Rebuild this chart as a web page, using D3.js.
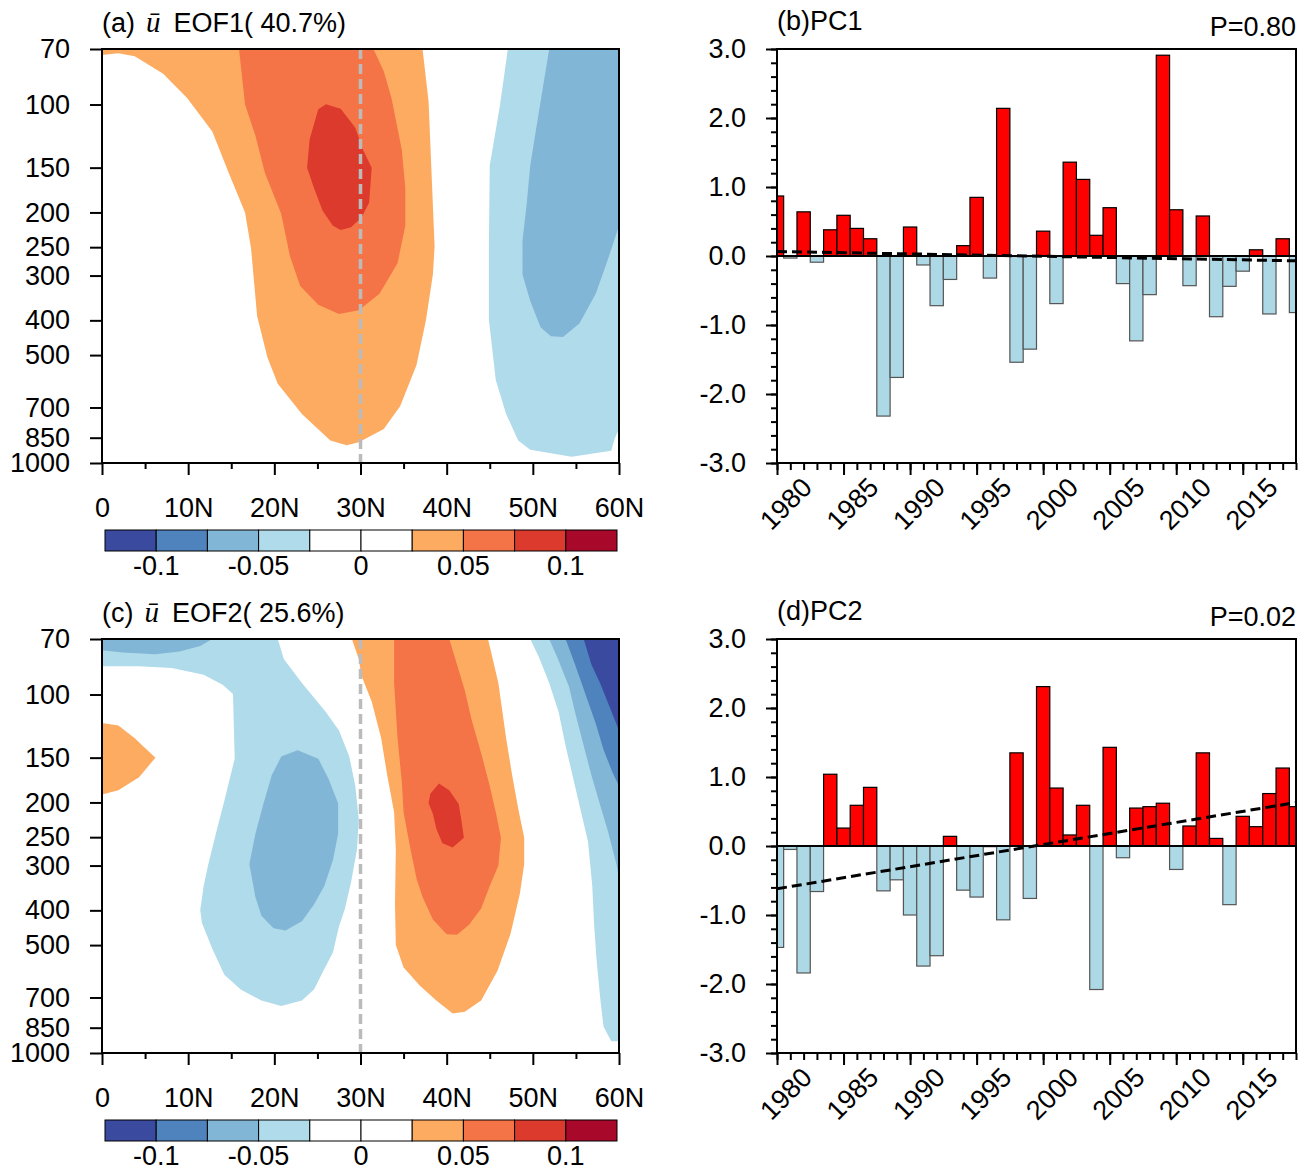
<!DOCTYPE html>
<html>
<head>
<meta charset="utf-8">
<script src="https://cdn.jsdelivr.net/npm/d3@7"></script>
<style>
body { margin: 0; background: #fff; }
text { font-family: "Liberation Sans", Arial, Helvetica, sans-serif; }
</style>
</head>
<body>
<script>
//------------------------------------------------------------------------------
// data

// colour levels of the contour plots (same colour bar for EOF1 and EOF2)
const levels = [-0.1, -0.075, -0.05, -0.025, 0, 0.025, 0.05, 0.075, 0.1]
const levelColors = ["#3a4a9e", "#4e83bd", "#82b6d6", "#b0dbea", "#ffffff", "#ffffff", "#fdab61", "#f47447", "#dc3a2d", "#a8082a"]
const cbEnds = [-0.125, 0.125]
const cbLabels = [-0.1, -0.05, 0, 0.05, 0.1]

const pLevels = [70, 100, 150, 200, 250, 300, 400, 500, 700, 850, 1000]
const latTicks = [0, 10, 20, 30, 40, 50, 60]
const latMinor = [5, 15, 25, 35, 45, 55]

// contour regions, [latitude, pressure hPa]
const eof1Pos1 = [[0,70],[37.2,70],[37.9,98],[38.1,128],[38.6,249],[38.4,298],[37.6,399],[36.5,533],[34.6,695],[32.7,804],[29.8,875],[28.4,892],[26.5,865],[23.2,730],[20.4,601],[19.2,508],[18.0,389],[17.3,252],[16.6,200],[14.7,155],[12.8,119],[9.9,96],[7.1,82],[3.8,73.3],[1.9,71.9],[0,72.8]]
const eof1Pos2 = [[15.9,70],[16.6,100],[17.8,122],[18.9,155],[20.8,202],[21.8,264],[23.0,321],[25.1,362],[27.5,384],[29.8,375],[32.2,337],[34.3,277],[35.2,218],[35.2,171],[34.8,134],[33.6,96],[32.7,80.7],[31.5,70]]
const eof1Pos3 = [[26.0,99.9],[27.7,102.8],[29.4,116],[30.3,134],[31.3,150],[31.0,188],[30.1,207],[28.9,220],[27.7,224],[26.8,218],[25.6,198],[24.6,171],[23.8,150],[24.1,125],[25.1,103]]
const eof1Neg1 = [[47.1,70],[60,70],[60,804],[59.5,854],[59.1,925],[54.5,960],[49.7,918],[48.3,865],[46.9,730],[45.7,587],[44.9,399],[44.9,246],[45.0,148],[46.2,100]]
const eof1Neg2 = [[51.9,70],[60,70],[60,218],[58.7,271],[57.3,337],[55.4,408],[53.5,445],[52.1,443],[50.9,418],[49.7,353],[48.8,298],[48.8,240],[49.3,188],[49.7,148],[50.7,105]]

const eof2Neg1a = [[0,70],[20.4,70],[21.1,79.6],[23.2,92.8],[26.0,112],[27.5,126],[28.7,149],[29.4,180],[29.8,223],[29.6,270],[28.9,334],[28.2,395],[27.5,444],[26.8,524],[25.8,583],[24.6,665],[23.2,714],[20.8,740],[18.5,714],[16.1,665],[14.2,605],[12.8,512],[11.6,434],[11.4,399],[11.8,342],[12.3,300],[13.3,240],[14.2,198],[15.4,151],[15.2,99.7],[14.0,93.9],[11.8,88.1],[8.1,84.4],[4.3,83.4],[0,83.4]]
const eof2Neg2a = [[0,70],[12.8,70],[11.4,73.2],[9.0,75.9],[6.2,77.2],[2.4,76.4],[0,75.3]]
const eof2Neg2b = [[22.7,143],[25.1,151],[26.3,172],[27.4,201],[27.4,245],[26.8,290],[25.8,342],[24.6,385],[23.2,429],[21.3,455],[19.9,449],[18.5,414],[17.8,367],[17.1,297],[17.8,245],[18.7,203],[19.7,168],[20.8,149]]
const eof2Pos1a = [[0,120],[1.9,122],[3.8,132.5],[6.2,150],[4.3,170],[1.9,185],[0,190]]
const eof2Pos1b = [[29.0,70],[29.8,79.6],[30.1,88.5],[31.3,104.5],[32.4,132.5],[33.1,168],[33.9,213],[34.1,270],[34.0,385],[34.1,500],[35.0,577],[36.9,649],[38.8,714],[40.7,776],[42.1,767],[44.0,714],[45.9,590],[47.4,466],[48.5,359],[49.0,297],[49.0,251],[48.3,208],[47.6,168],[46.9,132.5],[46.0,92.8],[44.8,70]]
const eof2Pos2 = [[33.9,70],[33.9,92.8],[34.3,132.5],[34.8,176],[35.0,213],[35.8,270],[36.5,326],[37.2,367],[38.4,424],[40.0,466],[41.2,468],[42.6,439],[44.0,395],[45.0,342],[46.0,300],[46.3,251],[45.7,213],[45.0,180],[44.0,145.7],[42.9,117.7],[42.1,97.3],[41.2,82.4],[40.3,70]]
const eof2Pos3 = [[39.1,177],[40.3,185],[41.4,202],[41.7,223],[42.0,251],[40.7,267],[39.5,260],[38.8,237],[38.4,215],[37.9,201],[38.1,189]]
const eof2Neg1b = [[49.7,70],[50.7,78.6],[51.9,92.8],[53.0,112],[53.8,139],[54.5,164],[55.4,203],[56.4,257],[56.9,342],[57.1,434],[57.4,550],[57.8,697],[58.2,843],[59.1,927],[60,927],[60,70]]
const eof2Neg2c = [[51.9,70],[53.0,80.5],[54.2,95.1],[54.9,112],[55.9,139],[56.8,168],[57.8,203],[58.7,240],[59.7,297],[60,326],[60,70]]
const eof2Neg3 = [[53.8,70],[54.9,82.4],[56.1,99.7],[57.3,120.5],[58.2,142.3],[59.2,164],[60,180],[60,70]]
const eof2Neg4 = [[55.9,70],[56.8,82.4],[57.8,92.8],[59.0,109.6],[60,126],[60,70]]

// value of each region (decides the colour), drawn in this order
const eof1Regions = [
    { v: 0.03, pts: eof1Pos1 }, { v: 0.06, pts: eof1Pos2 }, { v: 0.08, pts: eof1Pos3 },
    { v: -0.03, pts: eof1Neg1 }, { v: -0.06, pts: eof1Neg2 }
]
const eof2Regions = [
    { v: -0.03, pts: eof2Neg1a }, { v: -0.06, pts: eof2Neg2a }, { v: -0.06, pts: eof2Neg2b },
    { v: 0.03, pts: eof2Pos1a }, { v: 0.03, pts: eof2Pos1b }, { v: 0.06, pts: eof2Pos2 }, { v: 0.08, pts: eof2Pos3 },
    { v: -0.03, pts: eof2Neg1b }, { v: -0.06, pts: eof2Neg2c }, { v: -0.08, pts: eof2Neg3 }, { v: -0.11, pts: eof2Neg4 }
]

// principal components
const years = [1980, 1981, 1982, 1983, 1984, 1985, 1986, 1987, 1988, 1989,
    1990, 1991, 1992, 1993, 1994, 1995, 1996, 1997, 1998, 1999,
    2000, 2001, 2002, 2003, 2004, 2005, 2006, 2007, 2008, 2009,
    2010, 2011, 2012, 2013, 2014, 2015, 2016, 2017, 2018, 2019]
const pc1 = [0.87, -0.03, 0.64, -0.09, 0.38, 0.59, 0.40, 0.25, -2.32, -1.76,
    0.42, -0.13, -0.72, -0.34, 0.15, 0.85, -0.32, 2.14, -1.54, -1.35,
    0.36, -0.69, 1.36, 1.11, 0.30, 0.70, -0.40, -1.23, -0.56, 2.91,
    0.67, -0.43, 0.58, -0.88, -0.44, -0.22, 0.09, -0.84, 0.25, -0.82]
const pc2 = [-1.47, -0.05, -1.84, -0.66, 1.04, 0.26, 0.59, 0.85, -0.65, -0.49,
    -1.00, -1.74, -1.59, 0.14, -0.64, -0.74, -0.01, -1.07, 1.35, -0.76,
    2.31, 0.84, 0.16, 0.59, -2.08, 1.43, -0.17, 0.55, 0.57, 0.62,
    -0.34, 0.29, 1.35, 0.11, -0.85, 0.43, 0.28, 0.76, 1.13, 0.57]
// linear trend, value at first and last year
const trendYears = [1980, 2019]
const trend1 = [0.065, -0.07]
const trend2 = [-0.62, 0.63]

const yearTicks = [1980, 1985, 1990, 1995, 2000, 2005, 2010, 2015]
const pcTicks = [-3, -2, -1, 0, 1, 2, 3]

//------------------------------------------------------------------------------

const fs = 27 // taille du texte

const svg = d3.select("body").append("svg")
    .attr("width", 1306)
    .attr("height", 1169)

const color = d3.scaleThreshold().domain(levels).range(levelColors)

function styleAxis(sel) {
    sel.attr("font-size", fs).attr("font-family", null)
    sel.select(".domain").remove()
    sel.selectAll(".tick line").attr("stroke-width", 2)
}

//------------------------------------------------------------------------------
// contour panel (latitude / pressure)

function drawContour(top, tag, name, regions) {
    const w = 517, h = 414
    const g = svg.append("g").attr("transform", "translate(102," + top + ")")
    const x = d3.scaleLinear().domain([0, 60]).range([0, w])
    const y = d3.scaleLog().domain([70, 1000]).range([0, h])

    const clipId = "clip-c" + top
    g.append("clipPath").attr("id", clipId)
        .append("rect").attr("width", w).attr("height", h)

    const line = d3.line().x(d => x(d[0])).y(d => y(d[1]))
    g.append("g")
        .attr("clip-path", "url(#" + clipId + ")")
        .selectAll("path")
        .data(regions)
        .join("path")
        .attr("d", d => line(d.pts) + "Z")
        .attr("fill", d => color(d.v))

    // 30N reference line
    g.append("line")
        .attr("x1", x(30)).attr("x2", x(30))
        .attr("y1", 0).attr("y2", h)
        .attr("stroke", "#bbbbbb")
        .attr("stroke-width", 3.5)
        .attr("stroke-dasharray", "10,5")

    g.append("rect")
        .attr("width", w).attr("height", h)
        .attr("fill", "none").attr("stroke", "#000").attr("stroke-width", 2)

    g.append("g")
        .call(d3.axisLeft(y).tickValues(pLevels).tickFormat(d => d).tickSize(12).tickPadding(20))
        .call(styleAxis)

    g.append("g")
        .attr("transform", "translate(0," + h + ")")
        .call(d3.axisBottom(x).tickValues(latTicks).tickFormat(d => d === 0 ? "0" : d + "N").tickSize(12).tickPadding(23))
        .call(styleAxis)
    g.append("g")
        .attr("transform", "translate(0," + h + ")")
        .call(d3.axisBottom(x).tickValues(latMinor).tickFormat("").tickSize(6))
        .call(styleAxis)

    // titre
    const t = g.append("text")
        .attr("x", 0).attr("y", -17)
        .attr("font-size", fs)
    t.append("tspan").text("(" + tag + ")")
    t.append("tspan").attr("dx", 11)
        .style("font-family", "'Liberation Serif', 'DejaVu Serif', serif")
        .style("font-style", "italic")
        .attr("font-size", 29)
        .text("ū")
    t.append("tspan").attr("dx", 13).text(name)

    // colour bar
    const bounds = [cbEnds[0]].concat(levels, [cbEnds[1]])
    const cb = d3.scaleLinear().domain(cbEnds).range([3, 515])
    const cbG = g.append("g").attr("transform", "translate(0," + (h + 67) + ")")
    cbG.selectAll("rect")
        .data(levelColors)
        .join("rect")
        .attr("x", (d, i) => cb(bounds[i]))
        .attr("width", (d, i) => cb(bounds[i + 1]) - cb(bounds[i]))
        .attr("height", 21)
        .attr("fill", d => d)
        .attr("stroke", "#000")
        .attr("stroke-width", 1)
    cbG.selectAll("text")
        .data(cbLabels)
        .join("text")
        .attr("x", d => cb(d))
        .attr("y", 45)
        .attr("text-anchor", "middle")
        .attr("font-size", fs)
        .text(d => String(d))
}

//------------------------------------------------------------------------------
// bar panel (principal component)

function drawBars(top, title, pval, values, trend) {
    const w = 519, h = 414
    const g = svg.append("g").attr("transform", "translate(777," + top + ")")
    const x = d3.scaleLinear().domain([years[0], years[years.length - 1]]).range([0, w])
    const y = d3.scaleLinear().domain([-3, 3]).range([h, 0])
    const bw = x(years[1]) - x(years[0])

    const clipId = "clip-b" + top
    g.append("clipPath").attr("id", clipId)
        .append("rect").attr("width", w).attr("height", h)

    const plot = g.append("g").attr("clip-path", "url(#" + clipId + ")")
    plot.selectAll("rect")
        .data(values)
        .join("rect")
        .attr("x", (d, i) => x(years[i]) - bw / 2)
        .attr("width", bw)
        .attr("y", d => y(Math.max(d, 0)))
        .attr("height", d => Math.abs(y(d) - y(0)))
        .attr("fill", d => d > 0 ? "#ff0000" : "#add8e6")
        .attr("stroke", d => d > 0 ? "#000" : "#555")
        .attr("stroke-width", 1.2)

    plot.append("line")
        .attr("x1", 0).attr("x2", w)
        .attr("y1", y(0)).attr("y2", y(0))
        .attr("stroke", "#000").attr("stroke-width", 2)

    plot.append("path")
        .datum(trendYears.map((yr, i) => [yr, trend[i]]))
        .attr("d", d3.line().x(d => x(d[0])).y(d => y(d[1])))
        .attr("fill", "none")
        .attr("stroke", "#000")
        .attr("stroke-width", 3)
        .attr("stroke-dasharray", "10,5")

    g.append("rect")
        .attr("width", w).attr("height", h)
        .attr("fill", "none").attr("stroke", "#000").attr("stroke-width", 2)

    g.append("g")
        .call(d3.axisLeft(y).tickValues(pcTicks).tickFormat(d => d.toFixed(1)).tickSize(11).tickPadding(20))
        .call(styleAxis)
    g.append("g")
        .call(d3.axisLeft(y).tickValues(d3.range(-30, 31, 2).map(d => d / 10)).tickFormat("").tickSize(6))
        .call(styleAxis)

    g.append("g")
        .attr("transform", "translate(0," + h + ")")
        .call(d3.axisBottom(x).tickValues(yearTicks).tickFormat("").tickSize(12))
        .call(styleAxis)
    g.append("g")
        .attr("transform", "translate(0," + h + ")")
        .call(d3.axisBottom(x).tickValues(years).tickFormat("").tickSize(7))
        .call(styleAxis)

    // labels des années, inclinées
    g.append("g")
        .selectAll("text")
        .data(yearTicks)
        .join("text")
        .attr("transform", d => "translate(" + (x(d) + 9) + "," + (h + 41) + ") rotate(-45)")
        .attr("text-anchor", "middle")
        .attr("dominant-baseline", "central")
        .attr("font-size", fs)
        .text(d => d)

    g.append("text")
        .attr("x", 0).attr("y", -19)
        .attr("font-size", fs)
        .text(title)
    g.append("text")
        .attr("x", w).attr("y", -13)
        .attr("text-anchor", "end")
        .attr("font-size", fs)
        .text(pval)
}

//------------------------------------------------------------------------------

drawContour(49, "a", "EOF1( 40.7%)", eof1Regions)
drawBars(49, "(b)PC1", "P=0.80", pc1, trend1)
drawContour(639, "c", "EOF2( 25.6%)", eof2Regions)
drawBars(639, "(d)PC2", "P=0.02", pc2, trend2)
</script>
</body>
</html>
